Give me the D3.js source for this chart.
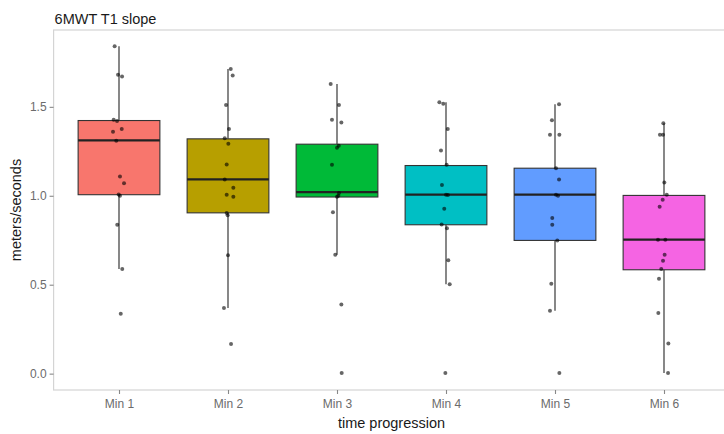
<!DOCTYPE html>
<html>
<head>
<meta charset="utf-8">
<script src="https://cdn.jsdelivr.net/npm/d3@7"></script>
<style>
  html, body { margin: 0; padding: 0; background: #fff; }
  svg { display: block; }
</style>
</head>
<body>
<svg id="chart" width="724" height="434"></svg>
<script>
// ---- data ----
const title = "6MWT T1 slope";
const xTitle = "time progression";
const yTitle = "meters/seconds";
const categories = ["Min 1", "Min 2", "Min 3", "Min 4", "Min 5", "Min 6"];
const yTicks = [0.0, 0.5, 1.0, 1.5];

// box statistics per category
const q1 =        [1.006, 0.904, 0.993, 0.837, 0.749, 0.584];
const medians =   [1.311, 1.092, 1.020, 1.006, 1.006, 0.753];
const q3 =        [1.423, 1.320, 1.290, 1.170, 1.155, 1.002];
const whiskerLo = [0.588, 0.369, 0.669, 0.502, 0.354, 0.004];
const whiskerHi = [1.840, 1.713, 1.629, 1.526, 1.515, 1.408];

// individual observations (values) and their jitter (fraction of category step)
const pointsMin1 = [1.84, 1.68, 1.67, 1.427, 1.42, 1.376, 1.36, 1.31, 1.108, 1.071, 1.007, 1.0, 0.837, 0.588, 0.337];
const jitterMin1 = [-0.040, -0.009, 0.028, -0.049, -0.018, 0.025, -0.055, -0.025, 0.009, 0.046, -0.003, 0.009, -0.016, 0.030, 0.016];
const pointsMin2 = [1.713, 1.676, 1.511, 1.376, 1.324, 1.292, 1.176, 1.092, 1.045, 1.006, 0.994, 0.903, 0.89, 0.665, 0.369, 0.167];
const jitterMin2 = [0.025, 0.043, -0.018, 0.009, -0.030, 0.003, -0.012, -0.030, 0.049, -0.012, 0.049, -0.012, -0.003, 0.0, -0.037, 0.028];
const pointsMin3 = [1.629, 1.511, 1.427, 1.412, 1.281, 1.27, 1.174, 1.015, 1.0, 0.995, 0.908, 0.669, 0.388, 0.004];
const jitterMin3 = [-0.058, 0.018, -0.046, 0.040, 0.016, 0.0, -0.046, 0.018, 0.012, 0.0, -0.037, -0.016, 0.040, 0.043];
const pointsMin4 = [1.526, 1.517, 1.375, 1.255, 1.174, 1.06, 1.006, 1.004, 0.927, 0.839, 0.818, 0.637, 0.502, 0.004];
const jitterMin4 = [-0.061, -0.025, 0.016, -0.046, 0.006, -0.037, 0.0, 0.018, -0.016, -0.040, 0.009, 0.021, 0.034, -0.006];
const pointsMin5 = [1.515, 1.425, 1.343, 1.343, 1.155, 1.092, 1.006, 1.0, 0.875, 0.837, 0.749, 0.506, 0.354, 0.004];
const jitterMin5 = [0.037, -0.028, -0.046, 0.040, 0.009, 0.037, 0.009, 0.028, -0.025, -0.025, 0.021, -0.034, -0.046, 0.040];
const pointsMin6 = [1.408, 1.343, 1.343, 1.075, 1.006, 0.978, 0.938, 0.753, 0.753, 0.669, 0.635, 0.588, 0.534, 0.341, 0.169, 0.004];
const jitterMin6 = [-0.006, -0.037, -0.009, 0.003, 0.025, -0.012, -0.040, -0.055, 0.012, 0.006, -0.009, -0.025, -0.046, -0.052, 0.040, 0.037];

const fills = ["#F8766D", "#B79F00", "#00BA38", "#00BFC4", "#619CFF", "#F564E3"];

// ---- layout ----
const panel = { left: 53.6, right: 729.4, top: 30, bottom: 390 };
const svg = d3.select("#chart");

const x = d3.scalePoint()
  .domain(categories)
  .range([panel.left, panel.right])
  .padding(0.6);
const step = x.step();

const y = d3.scaleLinear()
  .domain([-0.092, 1.932])
  .range([panel.bottom, panel.top]);

const allPoints = [pointsMin1, pointsMin2, pointsMin3, pointsMin4, pointsMin5, pointsMin6];
const allJitter = [jitterMin1, jitterMin2, jitterMin3, jitterMin4, jitterMin5, jitterMin6];

// panel background + border
svg.append("rect")
  .attr("x", panel.left).attr("y", panel.top)
  .attr("width", panel.right - panel.left).attr("height", panel.bottom - panel.top)
  .attr("fill", "#fff").attr("stroke", "#d4d4d4").attr("stroke-width", 1.2);

const boxW = step * 0.75;

const groups = svg.append("g").selectAll("g")
  .data(categories)
  .join("g");

// whiskers
groups.append("line")
  .attr("x1", d => x(d)).attr("x2", d => x(d))
  .attr("y1", (d, i) => y(whiskerHi[i])).attr("y2", (d, i) => y(q3[i]))
  .attr("stroke", "#555").attr("stroke-width", 1.4);
groups.append("line")
  .attr("x1", d => x(d)).attr("x2", d => x(d))
  .attr("y1", (d, i) => y(q1[i])).attr("y2", (d, i) => y(whiskerLo[i]))
  .attr("stroke", "#555").attr("stroke-width", 1.4);

// boxes
groups.append("rect")
  .attr("x", d => x(d) - boxW / 2)
  .attr("y", (d, i) => y(q3[i]))
  .attr("width", boxW)
  .attr("height", (d, i) => y(q1[i]) - y(q3[i]))
  .attr("fill", (d, i) => fills[i])
  .attr("stroke", "#333").attr("stroke-width", 1.1);

// medians
groups.append("line")
  .attr("x1", d => x(d) - boxW / 2).attr("x2", d => x(d) + boxW / 2)
  .attr("y1", (d, i) => y(medians[i])).attr("y2", (d, i) => y(medians[i]))
  .attr("stroke", "#222").attr("stroke-width", 2.2);

// jittered points
groups.each(function(d, i) {
  d3.select(this).selectAll("circle")
    .data(allPoints[i].map((v, j) => ({ v, j: allJitter[i][j] })))
    .join("circle")
    .attr("cx", p => x(d) + p.j * step)
    .attr("cy", p => y(p.v))
    .attr("r", 2)
    .attr("fill", "#000")
    .attr("fill-opacity", 0.6);
});

// axes
const font = "'Liberation Sans', Arial, sans-serif";
const yAxis = svg.append("g")
  .attr("transform", `translate(${panel.left},0)`)
  .call(d3.axisLeft(y).tickValues(yTicks).tickFormat(d3.format(".1f")).tickSize(4).tickPadding(3));
const xAxis = svg.append("g")
  .attr("transform", `translate(0,${panel.bottom})`)
  .call(d3.axisBottom(x).tickSize(4).tickPadding(5));

[yAxis, xAxis].forEach(a => {
  a.select(".domain").remove();
  a.selectAll(".tick line").attr("stroke", "#888").attr("stroke-width", 1.1);
  a.selectAll(".tick text").attr("fill", "#6b6b6b").style("font-family", font).style("font-size", "12px");
});

// titles
svg.append("text")
  .attr("x", panel.left + 1).attr("y", 24)
  .style("font-family", font).style("font-size", "14.5px").attr("fill", "#1a1a1a")
  .text(title);

svg.append("text")
  .attr("x", (panel.left + panel.right) / 2).attr("y", 428)
  .attr("text-anchor", "middle")
  .style("font-family", font).style("font-size", "14.5px").attr("fill", "#1a1a1a")
  .text(xTitle);

svg.append("text")
  .attr("transform", `translate(21,${(panel.top + panel.bottom) / 2}) rotate(-90)`)
  .attr("text-anchor", "middle")
  .style("font-family", font).style("font-size", "14.5px").attr("fill", "#1a1a1a")
  .text(yTitle);
</script>
</body>
</html>
